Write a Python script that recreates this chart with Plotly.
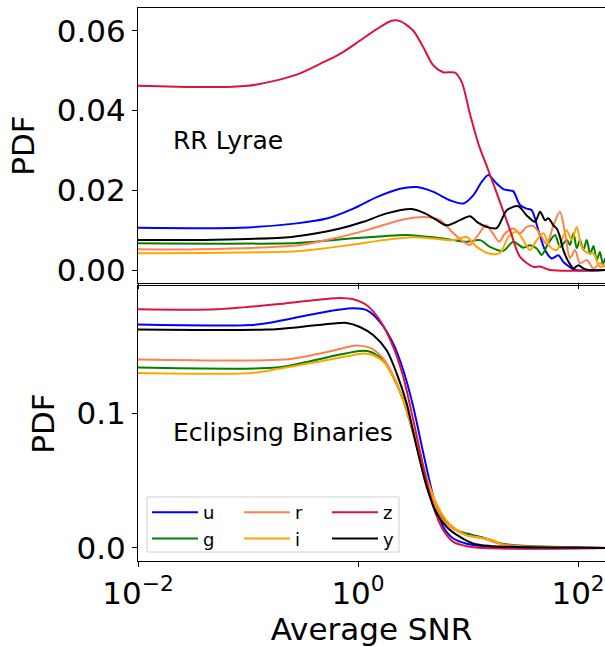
import plotly.graph_objects as go
from plotly.subplots import make_subplots

bands = ["u", "g", "r", "i", "z", "y"]
colors = ["#0000ff", "#008000", "#ff7f50", "#ffa500", "#dc143c", "#000000"]

# ---------------- RR Lyrae (top panel) ----------------
rr_u_snr = [0.01, 0.0851, 0.277, 0.519, 0.906, 1.48, 2.41, 3.41, 4.84, 6.85, 9.08, 11.2, 13.3, 15.3, 17.6, 20.9, 23.2, 25.7, 29.7, 34.1, 37.9, 43.5, 50.1, 57.7, 66.2, 73.6, 84.5, 94.9, 176]
rr_u_pdf = [0.0106, 0.0106, 0.0117, 0.0129, 0.0154, 0.0183, 0.0204, 0.0208, 0.0196, 0.0175, 0.0167, 0.0188, 0.0221, 0.0238, 0.0221, 0.0203, 0.0200, 0.0198, 0.0163, 0.0154, 0.0150, 0.0100, 0.0050, 0.0029, 0.0037, 0.0020, 0.0007, 0.0, 0.0]

rr_g_snr = [0.01, 0.277, 0.845, 1.7, 2.77, 4.84, 7.36, 9.73, 12.9, 15.8, 20.9, 25.8, 31.8, 36.6, 42.1, 46.8, 53.7, 61.8, 68.5, 78.9, 84.5, 90.8, 97.3, 104.2, 111.7, 120, 129, 138, 148, 158, 168, 176]
rr_g_pdf = [0.0067, 0.0068, 0.0079, 0.0085, 0.0088, 0.0082, 0.0075, 0.0071, 0.0075, 0.0058, 0.0048, 0.0071, 0.0056, 0.0062, 0.0054, 0.0038, 0.0067, 0.0088, 0.0058, 0.0075, 0.0063, 0.0092, 0.0055, 0.0075, 0.0050, 0.0075, 0.0040, 0.0060, 0.0025, 0.0045, 0.0015, 0.0030]

rr_r_snr = [0.01, 0.0363, 0.297, 0.597, 1.2, 2.41, 3.93, 5.56, 7.36, 9.08, 10.4, 12.0, 14.6, 16.4, 19.2, 21.7, 25.8, 29.7, 34.1, 39.3, 45.2, 51.9, 59.7, 68.5, 76.2, 84.5, 94.0, 104.2, 120, 138, 158, 176]
rr_r_pdf = [0.0052, 0.0052, 0.0063, 0.0079, 0.0100, 0.0125, 0.0133, 0.0125, 0.0092, 0.0071, 0.0063, 0.0083, 0.0112, 0.0096, 0.0071, 0.0092, 0.0104, 0.0092, 0.0108, 0.0110, 0.0090, 0.0065, 0.0112, 0.0146, 0.0092, 0.0030, 0.0050, 0.0017, 0.0025, 0.0004, 0.0017, 0.0008]

rr_i_snr = [0.01, 0.297, 0.845, 1.7, 3.18, 4.84, 7.36, 9.73, 12.0, 15.3, 19.5, 23.3, 27.7, 31.8, 36.6, 42.1, 48.4, 55.6, 64.0, 71.1, 78.9, 87.7, 97.3, 107.9, 124, 138, 158, 176]
rr_i_pdf = [0.0042, 0.0048, 0.0063, 0.0075, 0.0082, 0.0079, 0.0075, 0.0083, 0.0058, 0.0042, 0.0043, 0.0083, 0.0096, 0.0075, 0.0050, 0.0075, 0.0092, 0.0058, 0.0050, 0.0075, 0.0100, 0.0075, 0.0108, 0.0058, 0.0042, 0.0042, 0.0008, 0.0012]

rr_z_snr = [0.01, 0.1, 0.277, 0.452, 0.686, 1.04, 1.48, 2.02, 2.41, 3.18, 3.93, 4.84, 5.96, 7.62, 8.77, 10.4, 12.4, 15.3, 18.8, 24.1, 29.7, 39.3, 45.2, 55.6, 176]
rr_z_pdf = [0.0462, 0.0462, 0.0490, 0.0517, 0.0542, 0.0575, 0.0604, 0.0625, 0.0624, 0.0600, 0.0558, 0.0513, 0.0496, 0.0495, 0.0471, 0.0392, 0.0317, 0.0250, 0.0183, 0.0100, 0.0033, 0.0008, 0.0009, 0.0, 0.0]

rr_y_snr = [0.01, 0.05, 0.249, 0.421, 0.686, 1.12, 1.82, 3.08, 4.06, 5.19, 6.4, 8.45, 10.4, 12.4, 14.8, 18.2, 22.5, 28.6, 34.1, 40.6, 45.2, 50.1, 53.7, 59.7, 64.0, 68.5, 73.6, 81.7, 90.8, 100.7, 111.7, 124, 176]
rr_y_pdf = [0.0075, 0.0076, 0.0083, 0.0092, 0.0104, 0.0121, 0.0142, 0.0153, 0.0142, 0.0125, 0.0112, 0.0125, 0.0135, 0.0118, 0.0108, 0.0105, 0.0150, 0.0160, 0.0137, 0.0121, 0.0146, 0.0125, 0.0130, 0.0112, 0.0104, 0.0083, 0.0050, 0.0021, 0.0004, 0.0012, 0.0004, 0.0, 0.0]

# ---------------- Eclipsing Binaries (bottom panel) ----------------
eb_u_snr = [0.01, 0.12, 0.225, 0.421, 0.686, 0.906, 1.2, 1.58, 2.09, 2.58, 3.18, 3.93, 4.84, 5.96, 7.36, 9.73, 13.8, 19.5, 176]
eb_u_pdf = [0.1662, 0.1662, 0.1700, 0.1744, 0.1774, 0.1783, 0.1769, 0.1682, 0.1520, 0.1322, 0.1049, 0.0702, 0.0380, 0.0156, 0.0070, 0.0032, 0.0013, 0.0, 0.0]

eb_g_snr = [0.01, 0.182, 0.341, 0.686, 1.04, 1.29, 1.7, 2.09, 2.58, 3.18, 3.93, 4.84, 5.96, 7.36, 9.73, 13.8, 19.5, 31.8, 176]
eb_g_pdf = [0.1342, 0.1342, 0.1384, 0.1439, 0.1466, 0.1460, 0.1397, 0.1272, 0.1099, 0.0851, 0.0578, 0.0355, 0.0219, 0.0144, 0.0107, 0.0077, 0.0035, 0.0017, 0.0]

eb_r_snr = [0.01, 0.217, 0.421, 0.686, 0.973, 1.29, 1.7, 2.09, 2.58, 3.18, 3.93, 4.84, 5.96, 7.36, 9.73, 13.8, 19.5, 27.7, 176]
eb_r_pdf = [0.1402, 0.1402, 0.1441, 0.1481, 0.1506, 0.1488, 0.1409, 0.1285, 0.1099, 0.0851, 0.0578, 0.0355, 0.0206, 0.0144, 0.0094, 0.0070, 0.0032, 0.0015, 0.0002]

eb_i_snr = [0.01, 0.108, 0.209, 0.421, 0.789, 1.12, 1.38, 1.76, 2.17, 2.67, 3.3, 4.06, 5.01, 6.18, 7.62, 9.73, 12.9, 17.0, 20.9, 40, 176]
eb_i_pdf = [0.1302, 0.1302, 0.1339, 0.1384, 0.1426, 0.1446, 0.1434, 0.1372, 0.1248, 0.1074, 0.0826, 0.0565, 0.0355, 0.0219, 0.0144, 0.0094, 0.0077, 0.0057, 0.0017, 0.0007, 0.0]

eb_z_snr = [0.01, 0.0519, 0.182, 0.341, 0.686, 0.906, 1.2, 1.58, 2.09, 2.58, 3.18, 3.93, 4.84, 5.96, 7.36, 9.73, 13.8, 176]
eb_z_pdf = [0.1776, 0.1776, 0.1813, 0.1838, 0.1860, 0.1850, 0.1806, 0.1694, 0.1496, 0.1272, 0.0950, 0.0603, 0.0305, 0.0132, 0.0045, 0.0013, 0.0, 0.0]

eb_y_snr = [0.01, 0.148, 0.297, 0.597, 0.789, 1.04, 1.38, 1.82, 2.25, 2.77, 3.41, 4.21, 5.19, 6.4, 8.45, 11.2, 15.8, 27.7, 100, 176]
eb_y_pdf = [0.1625, 0.1625, 0.1644, 0.1670, 0.1674, 0.1644, 0.1583, 0.1471, 0.1297, 0.1074, 0.0751, 0.0454, 0.0256, 0.0156, 0.0082, 0.0032, 0.0015, 0.0007, 0.0003, 0.0]

x_tickvals = [0.01, 1, 100]
x_ticktext = ["10<sup>\u22122</sup>", "10<sup>0</sup>", "10<sup>2</sup>"]
top_tickvals = [0.0, 0.02, 0.04, 0.06]
bot_tickvals = [0.0, 0.1]

rr_data = [(rr_u_snr, rr_u_pdf), (rr_g_snr, rr_g_pdf), (rr_r_snr, rr_r_pdf),
           (rr_i_snr, rr_i_pdf), (rr_z_snr, rr_z_pdf), (rr_y_snr, rr_y_pdf)]
eb_data = [(eb_u_snr, eb_u_pdf), (eb_g_snr, eb_g_pdf), (eb_r_snr, eb_r_pdf),
           (eb_i_snr, eb_i_pdf), (eb_z_snr, eb_z_pdf), (eb_y_snr, eb_y_pdf)]
legend_ids = ["legend", "legend", "legend2", "legend2", "legend3", "legend3"]

FONT = "DejaVu Sans"
W, H = 605, 647
L_PX, T_PX, B_PX = 138, 8, 86

fig = make_subplots(rows=2, cols=1, shared_xaxes=True, vertical_spacing=0.0)

for k, b in enumerate(bands):
    xs, ys = rr_data[k]
    fig.add_trace(go.Scatter(x=xs, y=ys, mode="lines", name=b, showlegend=False,
                             line=dict(color=colors[k], width=2, shape="spline", smoothing=0.8)),
                  row=1, col=1)
for k, b in enumerate(bands):
    xs, ys = eb_data[k]
    fig.add_trace(go.Scatter(x=xs, y=ys, mode="lines", name=b, legend=legend_ids[k],
                             line=dict(color=colors[k], width=2, shape="spline", smoothing=0.8)),
                  row=2, col=1)

plot_h = H - T_PX - B_PX
def py(ypx):
    return (H - B_PX - ypx) / plot_h
def px(xpx):
    return (xpx - L_PX) / (W - L_PX)

axis_common = dict(showline=True, linecolor="black", linewidth=1, ticks="outside",
                   ticklen=5, tickwidth=1, tickcolor="black", showgrid=False, zeroline=False,
                   automargin=False,
                   tickfont=dict(family=FONT, size=31, color="black"))

fig.update_xaxes(type="log", range=[-2, 2.245], mirror=True, tickvals=x_tickvals,
                 ticktext=x_ticktext, **axis_common)
fig.update_xaxes(showticklabels=False, domain=[0, 1], row=1, col=1)
fig.update_xaxes(title=dict(text="Average SNR", font=dict(family=FONT, size=31, color="black"), standoff=2),
                 row=2, col=1)

fig.update_yaxes(mirror=False, **axis_common)
fig.update_yaxes(range=[-0.00325, 0.0657], tickvals=top_tickvals, tickformat=".2f",
                 domain=[py(283), 1.0],
                 title=dict(text="PDF", font=dict(family=FONT, size=31, color="black"), standoff=12),
                 row=1, col=1)
fig.update_yaxes(range=[-0.0097, 0.1949], tickvals=bot_tickvals, tickformat=".1f",
                 domain=[0.0, py(286)],
                 title=dict(text="PDF", font=dict(family=FONT, size=31, color="black"), standoff=12),
                 row=2, col=1)

legend_font = dict(family=FONT, size=18, color="black")
leg_common = dict(orientation="v", xanchor="left", yanchor="middle", y=py(525.5),
                  bgcolor="rgba(0,0,0,0)", borderwidth=0, font=legend_font,
                  itemwidth=46, tracegroupgap=0, traceorder="normal")
fig.update_layout(
    legend=dict(x=px(147), **leg_common),
    legend2=dict(x=px(239), **leg_common),
    legend3=dict(x=px(327), **leg_common),
)

fig.add_shape(type="rect", xref="paper", yref="paper", x0=px(147), x1=px(399),
              y0=py(552), y1=py(497), line=dict(color="#d0d0d0", width=1),
              fillcolor="rgba(255,255,255,0.8)", layer="above")

fig.add_annotation(text="RR Lyrae", xref="paper", yref="paper", x=px(171), y=py(141),
                   xanchor="left", yanchor="middle", showarrow=False,
                   font=dict(family=FONT, size=25, color="black"))
fig.add_annotation(text="Eclipsing Binaries", xref="paper", yref="paper", x=px(171), y=py(432),
                   xanchor="left", yanchor="middle", showarrow=False,
                   font=dict(family=FONT, size=25, color="black"))

fig.update_layout(width=W, height=H, margin=dict(l=L_PX, r=0, t=T_PX, b=B_PX, autoexpand=False),
                  paper_bgcolor="white", plot_bgcolor="white",
                  font=dict(family=FONT, color="black"))

fig.write_html("out.html", config={"displayModeBar": False},
               post_script="document.body.style.margin='0';document.body.style.overflow='hidden';")
